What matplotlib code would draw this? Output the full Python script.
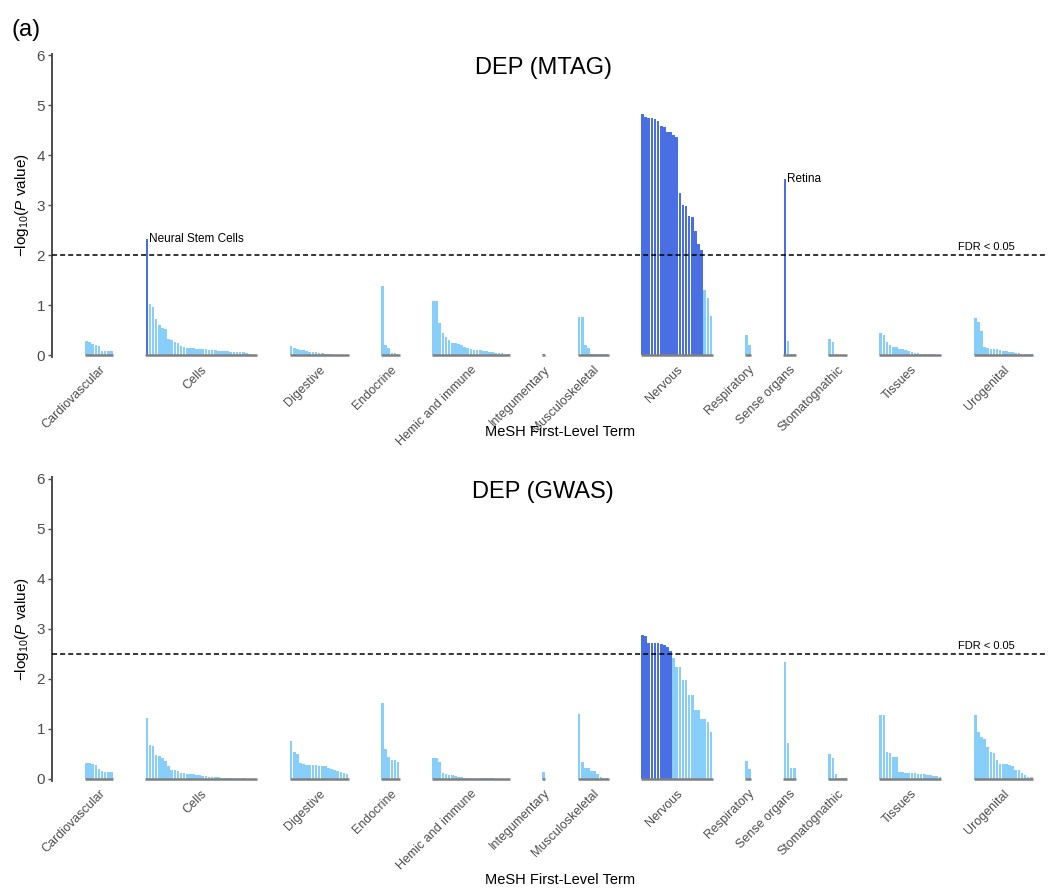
import numpy as np
import matplotlib
matplotlib.use("Agg")
import matplotlib.pyplot as plt
import matplotlib.transforms as mtransforms

plt.rcParams['font.family'] = ['Liberation Sans', 'DejaVu Sans']
plt.rcParams['mathtext.fontset'] = 'custom'
plt.rcParams['mathtext.rm'] = 'Liberation Sans'
plt.rcParams['mathtext.it'] = 'Liberation Sans:italic'

groups = ["Cardiovascular", "Cells", "Digestive", "Endocrine", "Hemic and immune",
          "Integumentary", "Musculoskeletal", "Nervous", "Respiratory", "Sense organs",
          "Stomatognathic", "Tissues", "Urogenital"]

# -log10(P) per MeSH term, sorted within group (top panel: MTAG)
mtag = [
    [0.28, 0.27, 0.23, 0.21, 0.18, 0.08, 0.08, 0.08, 0.08],
    [2.32, 1.03, 0.96, 0.72, 0.60, 0.55, 0.52, 0.33, 0.30, 0.26, 0.25, 0.18, 0.17, 0.15, 0.14, 0.14,
     0.13, 0.13, 0.12, 0.12, 0.11, 0.11, 0.10, 0.09, 0.09, 0.08, 0.08, 0.07, 0.07, 0.07, 0.06, 0.06,
     0.05, 0.03, 0.01, 0.0],
    [0.18, 0.15, 0.12, 0.11, 0.10, 0.08, 0.07, 0.07, 0.06, 0.05, 0.04, 0.03, 0.02, 0.02, 0.01, 0.01,
     0.01, 0.0, 0.0],
    [1.38, 0.20, 0.15, 0.05, 0.04, 0.03],
    [1.09, 1.09, 0.65, 0.45, 0.37, 0.30, 0.24, 0.24, 0.23, 0.20, 0.16, 0.14, 0.13, 0.11, 0.10, 0.10,
     0.09, 0.08, 0.07, 0.06, 0.05, 0.05, 0.04, 0.03, 0.03],
    [0.02],
    [0.76, 0.76, 0.20, 0.15, 0.03, 0.03, 0.03, 0.03, 0.02, 0.02],
    [4.82, 4.76, 4.75, 4.74, 4.72, 4.68, 4.58, 4.57, 4.47, 4.46, 4.40, 4.36, 3.25, 3.00, 2.98, 2.79,
     2.77, 2.48, 2.23, 2.11, 1.30, 1.15, 0.79],
    [0.41, 0.20],
    [3.53, 0.29, 0.02, 0.02],
    [0.32, 0.26, 0.02, 0.01, 0.01, 0.01],
    [0.45, 0.40, 0.27, 0.20, 0.17, 0.16, 0.13, 0.12, 0.10, 0.08, 0.06, 0.05, 0.04, 0.03, 0.03, 0.02,
     0.02, 0.02, 0.01, 0.01],
    [0.75, 0.67, 0.48, 0.17, 0.14, 0.13, 0.12, 0.12, 0.10, 0.09, 0.08, 0.07, 0.06, 0.05, 0.04, 0.03,
     0.03, 0.02, 0.02],
]
# bottom panel: GWAS
gwas = [
    [0.32, 0.32, 0.29, 0.28, 0.20, 0.15, 0.14, 0.14, 0.14],
    [1.21, 0.67, 0.66, 0.48, 0.46, 0.41, 0.35, 0.25, 0.18, 0.17, 0.15, 0.12, 0.11, 0.10, 0.10, 0.09,
     0.08, 0.07, 0.06, 0.05, 0.04, 0.04, 0.03, 0.03, 0.02, 0.02, 0.01, 0.01, 0.01, 0.01, 0.01, 0.01,
     0.0, 0.0, 0.0, 0.0],
    [0.75, 0.53, 0.50, 0.32, 0.30, 0.28, 0.28, 0.28, 0.27, 0.26, 0.26, 0.25, 0.22, 0.20, 0.17, 0.15,
     0.13, 0.12, 0.10],
    [1.51, 0.59, 0.43, 0.37, 0.37, 0.33],
    [0.42, 0.41, 0.33, 0.12, 0.10, 0.08, 0.07, 0.06, 0.04, 0.03, 0.02, 0.02, 0.01, 0.01, 0.01, 0.01,
     0.01, 0.01, 0.01, 0.01, 0.0, 0.0, 0.0, 0.0, 0.0],
    [0.14],
    [1.29, 0.33, 0.21, 0.21, 0.16, 0.16, 0.10, 0.04, 0.02, 0.01],
    [2.87, 2.86, 2.72, 2.72, 2.71, 2.71, 2.70, 2.68, 2.64, 2.55, 2.42, 2.23, 2.23, 1.98, 1.98, 1.68,
     1.68, 1.37, 1.37, 1.20, 1.20, 1.13, 0.93],
    [0.36, 0.19],
    [2.33, 0.71, 0.21, 0.21],
    [0.50, 0.41, 0.10, 0.02, 0.02, 0.01],
    [1.28, 1.28, 0.54, 0.51, 0.43, 0.43, 0.14, 0.13, 0.12, 0.12, 0.11, 0.11, 0.10, 0.10, 0.09, 0.08,
     0.07, 0.06, 0.05, 0.03],
    [1.28, 0.94, 0.83, 0.80, 0.63, 0.53, 0.52, 0.38, 0.29, 0.29, 0.29, 0.27, 0.26, 0.17, 0.17, 0.12,
     0.08, 0.04, 0.03],
]
# number of leading significant terms per group
mtag_sig = [0, 1, 0, 0, 0, 0, 0, 20, 0, 1, 0, 0, 0]
gwas_sig = [0, 0, 0, 0, 0, 0, 0, 10, 0, 0, 0, 0, 0]
mtag_thr = 2.0
gwas_thr = 2.5
mtag_labels = {(1, 0): "Neural Stem Cells", (9, 0): "Retina"}
gwas_labels = {}

LIGHT = "#87CEFA"; DARK = "#4A6FE3"; GREY = "#4d4d4d"
GAP = 10.4

def panel(ax, data, sig, thr, title, labels):
    off = 0.0; centers = []
    for g, vals in enumerate(data):
        n = len(vals); x = off + np.arange(n)
        cols = [DARK if i < sig[g] else LIGHT for i in range(n)]
        ax.bar(x, vals, width=0.84, color=cols, linewidth=0, zorder=2)
        ax.plot([off - 0.5, off + n - 0.5], [0, 0], color="#808080", lw=1.8,
                solid_capstyle="butt", zorder=3)
        for (gg, i), txt in labels.items():
            if gg == g:
                ax.text(x[i] + 0.7, vals[i], txt, fontsize=8.5, ha="left", va="center")
        centers.append(off + (n - 1) / 2)
        off += n + GAP
    ax.axhline(thr, color="black", lw=1.1, ls=(0, (3.3, 2.0)), zorder=4)
    tr = mtransforms.blended_transform_factory(ax.transAxes, ax.transData)
    ax.text(0.97, thr + 0.06, "FDR < 0.05", transform=tr, ha="right", va="bottom", fontsize=8)
    ax.text(0.4945, 0.952, title, transform=ax.transAxes, ha="center", va="center", fontsize=17)
    ax.set_xlim(-11.1, off - GAP + 3.4)
    ax.set_ylim(-0.03, 6.03)
    ax.set_yticks(range(7))
    ax.set_xticks(centers)
    ax.set_xticklabels(groups, rotation=45, ha="right", rotation_mode="anchor",
                       fontsize=9, color=GREY)
    ax.tick_params(axis="x", length=0, pad=5)
    ax.tick_params(axis="y", length=3, width=1, color=GREY, labelcolor=GREY,
                   labelsize=11, pad=2)
    for s in ("top", "right", "bottom"):
        ax.spines[s].set_visible(False)
    ax.spines["left"].set_color(GREY); ax.spines["left"].set_linewidth(1.4)
    ax.set_ylabel(r"$-$log$_{10}$($\mathit{P}$ value)", fontsize=11, labelpad=4)

fig = plt.figure(figsize=(10.5, 8.92), dpi=100)
ax1 = fig.add_axes([0.0495, 0.6003, 0.9457, 0.3397])
ax2 = fig.add_axes([0.0495, 0.1250, 0.9457, 0.3397])
panel(ax1, mtag, mtag_sig, mtag_thr, "DEP (MTAG)", mtag_labels)
panel(ax2, gwas, gwas_sig, gwas_thr, "DEP (GWAS)", gwas_labels)
fig.text(0.533, 1 - 432 / 892, "MeSH First-Level Term", ha="center", va="center", fontsize=10.5)
fig.text(0.533, 1 - 880 / 892, "MeSH First-Level Term", ha="center", va="center", fontsize=10.5)
fig.text(0.011, 1 - 30 / 892, "(a)", ha="left", va="center", fontsize=17)
fig.savefig("out.png", dpi=100)
